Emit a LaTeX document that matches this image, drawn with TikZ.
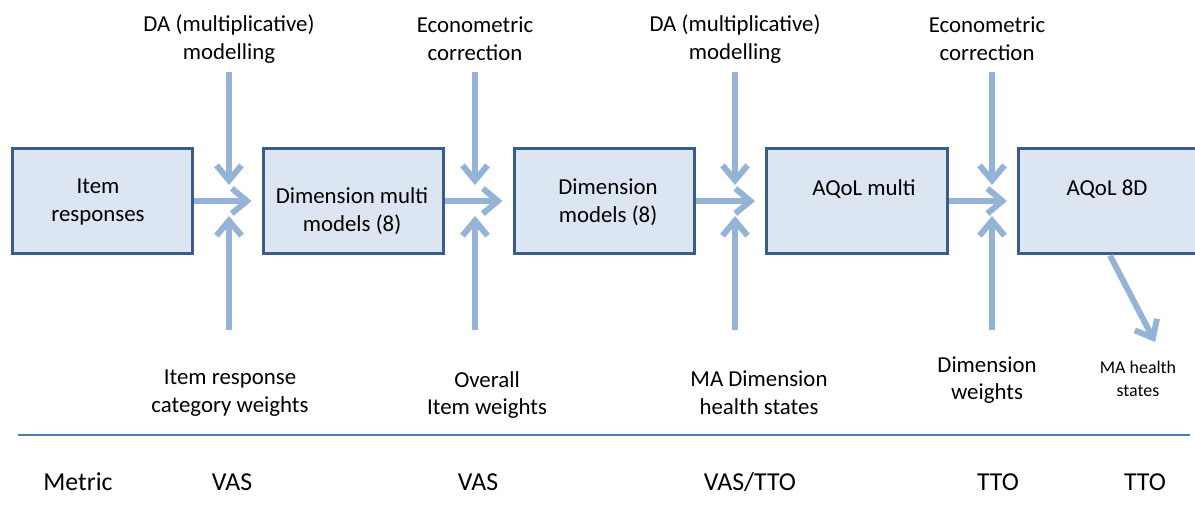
\documentclass[tikz,border=0pt]{standalone}
\usepackage{fontspec}
\setmainfont{Carlito}
\usetikzlibrary{arrows.meta}
\definecolor{boxfill}{HTML}{DCE6F2}
\definecolor{boxline}{HTML}{385D8A}
\definecolor{arrcol}{HTML}{95B3D7}
\definecolor{sepcol}{HTML}{4A7EBB}
\tikzset{
  stagebox/.style={draw=boxline, fill=boxfill, line width=0.06cm, minimum width=3.62cm, minimum height=2.12cm, inner sep=0pt},
  lbl/.style={font=\fontsize{13}{15.8}\selectfont, align=center, inner sep=0pt},
  smalllbl/.style={font=\fontsize{10.2}{13.4}\selectfont, align=center, inner sep=0pt},
  metric/.style={font=\fontsize{14.7}{17}\selectfont, inner sep=0pt},
  arr/.style={draw=arrcol, line width=0.12cm, -{Straight Barb[length=0.3cm,width=0.5cm]}},
}
\begin{document}
\begin{tikzpicture}[x=0.02cm,y=-0.02cm]
\useasboundingbox (0,0) rectangle (1195,524);
% boxes
\node[stagebox] (b1) at (102.5,201) {};
\node[stagebox] (b2) at (353.5,201) {};
\node[stagebox] (b3) at (604.5,201) {};
\node[stagebox] (b4) at (857,201) {};
\node[stagebox] (b5) at (1109,201) {};
% box texts
\node[lbl] (t1) at (98,202) {Item\\responses};
\node[lbl] (t2) at (352,211) {Dimension multi\\models (8)};
\node[lbl] (t3) at (608,202) {Dimension\\models (8)};
\node[lbl] (t4) at (864,189) {AQoL multi};
\node[lbl] (t5) at (1107,189) {AQoL 8D};
% top labels
\node[lbl] (a1) at (229,39) {DA (multiplicative)\\modelling};
\node[lbl] (a2) at (475,39) {Econometric\\correction};
\node[lbl] (a3) at (735,39) {DA (multiplicative)\\modelling};
\node[lbl] (a4) at (987,39) {Econometric\\correction};
% bottom labels
\node[lbl] (c1) at (230,393) {Item response\\category weights};
\node[lbl] (c2) at (487,395) {Overall\\Item weights};
\node[lbl] (c3) at (759,393) {MA Dimension\\health states};
\node[lbl] (c4) at (987,380) {Dimension\\weights};
\node[smalllbl] (c5) at (1138,379) {MA health\\states};
% arrow end coordinates
\foreach \i/\x in {1/229,2/475,3/735,4/992}{
  \coordinate (u\i) at (\x,72);
  \coordinate (j\i) at (\x,201);
  \coordinate (d\i) at (\x,330);
  \draw[arr, shorten >=0.32cm] (u\i) -- (j\i);
  \draw[arr, shorten >=0.3cm] (d\i) -- (j\i);
}
\draw[arr, shorten >=0.2cm] (b1) -- (b2);
\draw[arr, shorten >=0.2cm] (b2) -- (b3);
\draw[arr, shorten >=0.2cm] (b3) -- (b4);
\draw[arr, shorten >=0.2cm] (b4) -- (b5);
\coordinate (ma) at (1155,342);
\draw[arr] (b5.south -| 1110,0) -- (ma);
% separator
\coordinate (s1) at (18,435);
\coordinate (s2) at (1190,435);
\draw[sepcol, line width=0.035cm] (s1) -- (s2);
% metric row
\node[metric] (m0) at (78,482) {Metric};
\node[metric] (m1) at (232,482) {VAS};
\node[metric] (m2) at (478,482) {VAS};
\node[metric] (m3) at (750,482) {VAS/TTO};
\node[metric] (m4) at (998,482) {TTO};
\node[metric] (m5) at (1145,482) {TTO};
\end{tikzpicture}
\end{document}
